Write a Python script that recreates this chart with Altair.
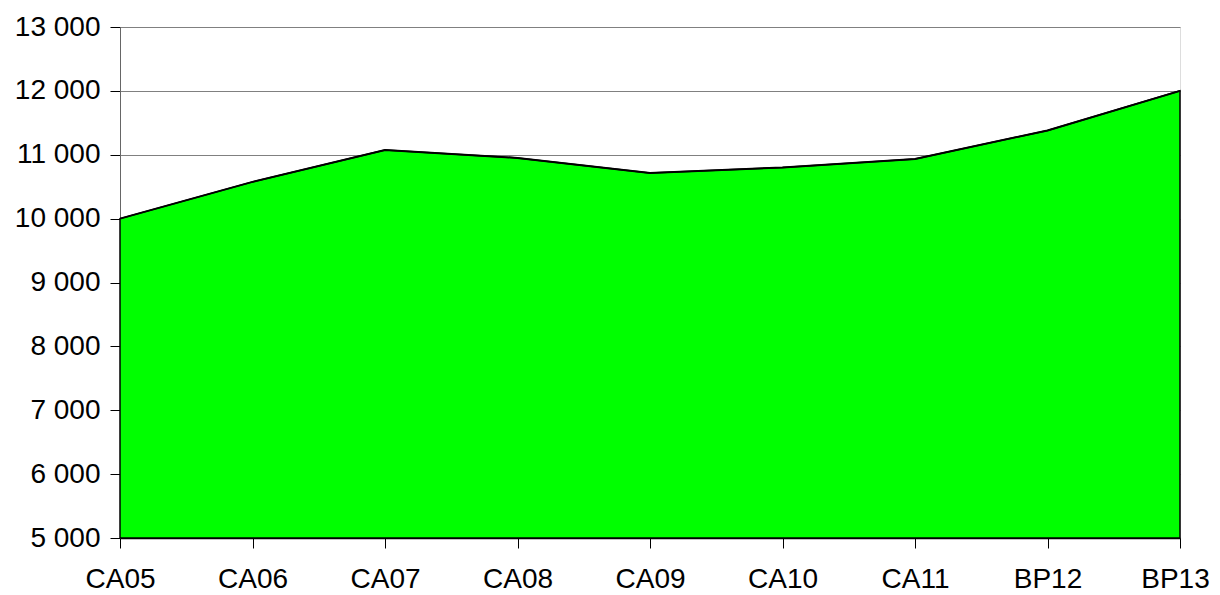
import altair as alt
import pandas as pd

categories = ["CA05", "CA06", "CA07", "CA08", "CA09", "CA10", "CA11", "BP12", "BP13"]
values = [10000, 10575, 11075, 10950, 10715, 10800, 10935, 11380, 12000]
y_ticks = [5000, 6000, 7000, 8000, 9000, 10000, 11000, 12000, 13000]
baseline = 5000

df = pd.DataFrame({"cat": categories, "val": values})

x_enc = alt.X("cat:N", sort=categories, scale=alt.Scale(type="point", padding=0),
              axis=alt.Axis(title=None, labelAngle=0, labelFont="Liberation Sans", labelFontSize=28,
                            labelColor="black", tickColor="black", tickSize=10, domainColor="black",
                            domainWidth=1.5, labelPadding=17, grid=False,
                            labelOffset={"condition": {"test": "datum.value == 'BP13'", "value": -5},
                                         "value": 0}))
y_enc = alt.Y("val:Q", scale=alt.Scale(domain=[5000, 13000], nice=False, zero=False),
              axis=alt.Axis(title=None, values=y_ticks, labelFont="Liberation Sans", labelFontSize=28,
                            labelColor="black", tickColor="black", tickSize=10, domainColor="#666666",
                            labelPadding=10, grid=True, gridColor="#808080", gridWidth=1,
                            labelExpr="replace(format(datum.value, ','), ',', ' ')"))

area = alt.Chart(df).mark_area(color="#00FF00", stroke="black", strokeWidth=1.5, opacity=1).encode(
    x=x_enc, y=y_enc, y2=alt.datum(baseline))
line = alt.Chart(df).mark_line(color="black", strokeWidth=2).encode(x=x_enc, y=y_enc)

chart = alt.layer(area, line).properties(
    width=1060, height=511,
    autosize=alt.AutoSizeParams(type="none"),
    padding={"left": 112, "top": 19, "right": 32, "bottom": 57},
).configure_view(stroke=None).configure(background="white")

chart.save("out.html", embed_options={"renderer": "svg", "actions": False})
